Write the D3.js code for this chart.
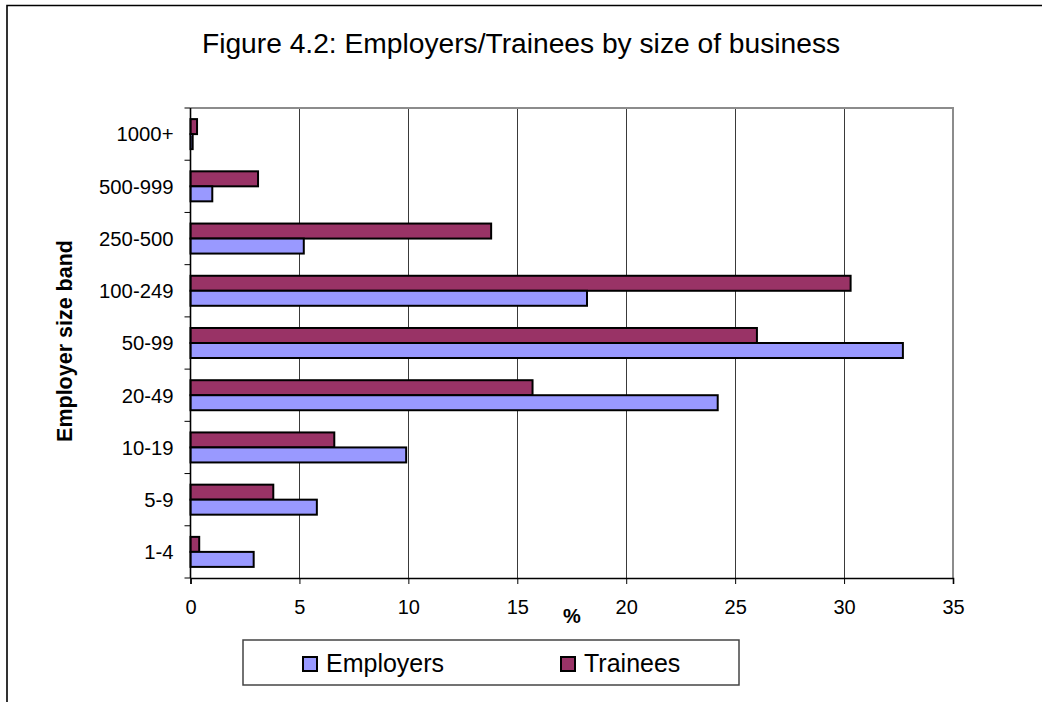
<!DOCTYPE html>
<html>
<head>
<meta charset="utf-8">
<script src="https://cdn.jsdelivr.net/npm/d3@7"></script>
<style>
  html, body { margin: 0; padding: 0; background: #fff; }
  svg { display: block; font-family: "Liberation Sans", Arial, sans-serif; }
</style>
</head>
<body>
<svg id="chart" width="1042" height="702"></svg>
<script>
// Size bands, listed top to bottom as they appear on the axis
const categories = ["1000+", "500-999", "250-500", "100-249", "50-99", "20-49", "10-19", "5-9", "1-4"];
// Percentage shares per band
const employers = [0.1, 1.0, 5.2, 18.2, 32.7, 24.2, 9.9, 5.8, 2.9];
const trainees  = [0.3, 3.1, 13.8, 30.3, 26.0, 15.7, 6.6, 3.8, 0.4];
const xTicks = [0, 5, 10, 15, 20, 25, 30, 35];
const seriesNames = ["Trainees", "Employers"];   // order within each band, top first
const legendNames = ["Employers", "Trainees"];
const colors = { Employers: "#9999FF", Trainees: "#993366" };

const svg = d3.select("#chart");

// Outer frame (left and top edges)
svg.append("path")
  .attr("d", "M7,702 L7,5.5 L1042,5.5")
  .attr("fill", "none").attr("stroke", "#000").attr("stroke-width", 1.6);

// Title
svg.append("text")
  .attr("x", 521).attr("y", 53)
  .attr("text-anchor", "middle")
  .attr("font-size", 28.2)
  .text("Figure 4.2: Employers/Trainees by size of business");

const plot = { left: 190.5, right: 953, top: 108, bottom: 578 };

const x = d3.scaleLinear().domain([0, 35]).range([plot.left, plot.right]);
const y = d3.scaleBand().domain(categories).range([plot.top, plot.bottom]).padding(0);
const ySub = d3.scaleBand().domain(seriesNames).range([0, y.bandwidth()]).paddingInner(0).paddingOuter(0.74);

// Vertical gridlines
svg.append("g").selectAll("line")
  .data(xTicks.filter(t => t > 0 && t < 35))
  .join("line")
  .attr("x1", d => Math.round(x(d)) + 0.5).attr("x2", d => Math.round(x(d)) + 0.5)
  .attr("y1", plot.top).attr("y2", plot.bottom)
  .attr("stroke", "#3a3a3a").attr("stroke-width", 1);

// Plot area top and right edges
svg.append("path")
  .attr("d", `M${plot.left},${plot.top} L${plot.right},${plot.top} L${plot.right},${plot.bottom}`)
  .attr("fill", "none").attr("stroke", "#8c8c8c").attr("stroke-width", 2);

// Bars
const rows = categories.map((c, i) => ({ cat: c, Employers: employers[i], Trainees: trainees[i] }));
const groups = svg.append("g").selectAll("g")
  .data(rows).join("g")
  .attr("transform", d => `translate(0,${y(d.cat)})`);
groups.selectAll("rect")
  .data(d => seriesNames.map(s => ({ s, v: d[s] })))
  .join("rect")
  .attr("x", x(0))
  .attr("y", d => ySub(d.s))
  .attr("width", d => x(d.v) - x(0))
  .attr("height", ySub.bandwidth())
  .attr("fill", d => colors[d.s])
  .attr("stroke", "#000").attr("stroke-width", 2);

// X axis
const xAxis = svg.append("g")
  .attr("transform", `translate(0,${plot.bottom})`)
  .call(d3.axisBottom(x).tickValues(xTicks).tickSize(6).tickPadding(16).tickFormat(d3.format("d")));
xAxis.select(".domain").attr("stroke", "#000").attr("stroke-width", 1.6);
xAxis.selectAll(".tick line").attr("stroke", "#000").attr("stroke-width", 1);
xAxis.selectAll("text").attr("font-size", 20).attr("font-family", "Liberation Sans, Arial, sans-serif").attr("fill", "#000");

// Y axis: ticks at band boundaries, labels at band centres
const yAxisG = svg.append("g").attr("transform", `translate(${plot.left},0)`);
yAxisG.append("line")
  .attr("x1", 0).attr("x2", 0).attr("y1", plot.top).attr("y2", plot.bottom)
  .attr("stroke", "#000").attr("stroke-width", 1.6);
const boundaries = categories.map(c => y(c)).concat([plot.bottom]);
yAxisG.selectAll("line.tick")
  .data(boundaries).join("line").attr("class", "tick")
  .attr("x1", -6).attr("x2", 0)
  .attr("y1", d => d).attr("y2", d => d)
  .attr("stroke", "#000").attr("stroke-width", 1);
yAxisG.selectAll("text")
  .data(categories).join("text")
  .attr("x", -17)
  .attr("y", d => y(d) + y.bandwidth() / 2)
  .attr("dy", "0.36em")
  .attr("text-anchor", "end")
  .attr("font-size", 20.3)
  .text(d => d);

// Axis titles
svg.append("text")
  .attr("transform", `translate(72,341) rotate(-90)`)
  .attr("text-anchor", "middle")
  .attr("font-size", 21.5).attr("font-weight", "bold")
  .text("Employer size band");
svg.append("text")
  .attr("x", 572).attr("y", 623)
  .attr("text-anchor", "middle")
  .attr("font-size", 20).attr("font-weight", "bold")
  .text("%");

// Legend
const legend = svg.append("g");
legend.append("rect")
  .attr("x", 243).attr("y", 640).attr("width", 496).attr("height", 45)
  .attr("fill", "#fff").attr("stroke", "#444").attr("stroke-width", 1.5);
const legendX = { Employers: 303, Trainees: 561 };
const items = legend.selectAll("g.item").data(legendNames).join("g").attr("class", "item")
  .attr("transform", d => `translate(${legendX[d]},657)`);
items.append("rect")
  .attr("width", 14).attr("height", 14)
  .attr("fill", d => colors[d]).attr("stroke", "#000").attr("stroke-width", 2);
items.append("text")
  .attr("x", 23).attr("y", 15)
  .attr("font-size", 25)
  .text(d => d);
</script>
</body>
</html>
